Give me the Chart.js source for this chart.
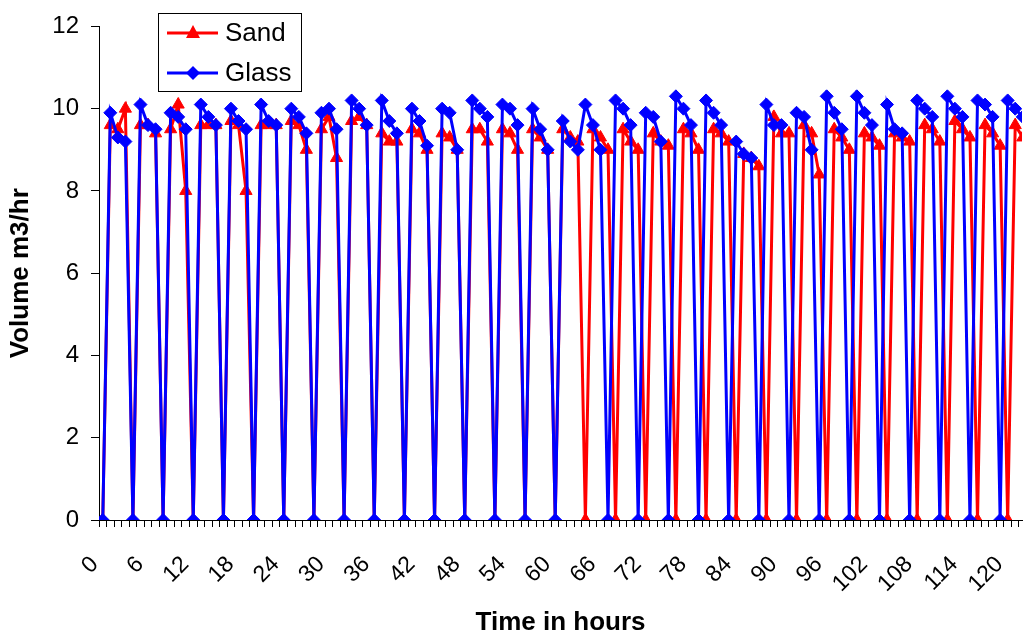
<!DOCTYPE html>
<html>
<head>
<meta charset="utf-8">
<title>Volume m3/hr</title>
<script src="https://cdn.jsdelivr.net/npm/chart.js@4.4.0/dist/chart.umd.min.js"></script>
<style>
  html, body { margin: 0; padding: 0; background: #fff; overflow: hidden; }
  #wrap { width: 1030px; height: 639px; position: relative; }
</style>
</head>
<body>
<div id="wrap"><canvas id="volumeChart" width="1030" height="639"></canvas></div>
<script>
// hourly readings, hour 0 .. 122 (the last one sits on the cut edge of the plot)
const sand = [
  0, 9.6, 9.5, 10.0, 0, 9.6, 9.6, 9.4, 0, 9.5, 10.1, 8.0,
  0, 9.6, 9.6, 9.6, 0, 9.7, 9.6, 8.0, 0, 9.6, 9.6, 9.6,
  0, 9.7, 9.6, 9.0, 0, 9.5, 9.8, 8.8, 0, 9.7, 9.8, 9.6,
  0, 9.4, 9.2, 9.2, 0, 9.5, 9.4, 9.0, 0, 9.4, 9.3, 9.0,
  0, 9.5, 9.5, 9.2, 0, 9.5, 9.4, 9.0, 0, 9.5, 9.3, 9.0,
  0, 9.5, 9.3, 9.2, 0, 9.5, 9.3, 9.0, 0, 9.5, 9.2, 9.0,
  0, 9.4, 9.2, 9.1, 0, 9.5, 9.4, 9.0, 0, 9.5, 9.4, 9.2,
  0, 8.9, 8.8, 8.6, 0, 9.8, 9.4, 9.4, 0, 9.6, 9.4, 8.4,
  0, 9.5, 9.3, 9.0, 0, 9.4, 9.3, 9.1, 0, 9.4, 9.3, 9.2,
  0, 9.6, 9.5, 9.2, 0, 9.7, 9.5, 9.3, 0, 9.6, 9.4, 9.1,
  0, 9.6, 9.3
];
const glass = [
  0, 9.9, 9.3, 9.2, 0, 10.1, 9.6, 9.5, 0, 9.9, 9.8, 9.5,
  0, 10.1, 9.8, 9.6, 0, 10.0, 9.7, 9.5, 0, 10.1, 9.7, 9.6,
  0, 10.0, 9.8, 9.4, 0, 9.9, 10.0, 9.5, 0, 10.2, 10.0, 9.6,
  0, 10.2, 9.7, 9.4, 0, 10.0, 9.7, 9.1, 0, 10.0, 9.9, 9.0,
  0, 10.2, 10.0, 9.8, 0, 10.1, 10.0, 9.6, 0, 10.0, 9.5, 9.0,
  0, 9.7, 9.2, 9.0, 10.1, 9.6, 9.0, 0, 10.2, 10.0, 9.6, 0,
  9.9, 9.8, 9.2, 0, 10.3, 10.0, 9.6, 0, 10.2, 9.9, 9.6, 0,
  9.2, 8.9, 8.8, 0, 10.1, 9.6, 9.6, 0, 9.9, 9.8, 9.0, 0,
  10.3, 9.9, 9.5, 0, 10.3, 9.9, 9.6, 0, 10.1, 9.5, 9.4, 0,
  10.2, 10.0, 9.8, 0, 10.3, 10.0, 9.8, 0, 10.2, 10.1, 9.8, 0,
  10.2, 10.0, 9.8
];
const hours = sand.map((v, h) => h);
const tickHours = [0, 6, 12, 18, 24, 30, 36, 42, 48, 54, 60, 66, 72, 78, 84, 90, 96, 102, 108, 114, 120];

Chart.defaults.font.family = '"Liberation Sans", Arial, sans-serif';
Chart.defaults.color = "#000";

// legend box sitting inside the plot, top left
const floatingLegend = {
  id: "floatingLegend",
  afterDraw(chart) {
    const ctx = chart.ctx;
    ctx.save();
    ctx.fillStyle = "#fff";
    ctx.fillRect(158.5, 13.5, 143, 78);
    ctx.strokeStyle = "#000";
    ctx.lineWidth = 1;
    ctx.strokeRect(158.5, 13.5, 143, 78);
    chart.data.datasets.forEach((ds, i) => {
      const y = 33 + i * 40;
      ctx.strokeStyle = ds.borderColor;
      ctx.lineWidth = 3;
      ctx.beginPath();
      ctx.moveTo(167, y);
      ctx.lineTo(218, y);
      ctx.stroke();
      ctx.fillStyle = ds.borderColor;
      ctx.beginPath();
      if (ds.pointStyle === "triangle") {
        ctx.moveTo(193, y - 8);
        ctx.lineTo(200, y + 5);
        ctx.lineTo(186, y + 5);
      } else {
        ctx.moveTo(193, y - 7);
        ctx.lineTo(200, y);
        ctx.lineTo(193, y + 7);
        ctx.lineTo(186, y);
      }
      ctx.closePath();
      ctx.fill();
      ctx.fillStyle = "#000";
      ctx.font = '26px "Liberation Sans", Arial, sans-serif';
      ctx.textBaseline = "middle";
      ctx.fillText(ds.label, 225, y + 1);
    });
    ctx.restore();
  }
};

function createVolumeChart() {
  const ctx = document.getElementById("volumeChart").getContext("2d");
  new Chart(ctx, {
    type: "line",
    data: {
      datasets: [
        {
          label: "Sand",
          data: hours.map((h) => ({ x: h, y: sand[h] })),
          borderColor: "#ff0000",
          backgroundColor: "#ff0000",
          borderWidth: 3,
          pointStyle: "triangle",
          pointRadius: 7,
          pointBorderWidth: 1,
          tension: 0,
          order: 1
        },
        {
          label: "Glass",
          data: hours.map((h) => ({ x: h, y: glass[h] })),
          borderColor: "#0000ff",
          backgroundColor: "#0000ff",
          borderWidth: 3,
          pointStyle: "rectRot",
          pointRadius: 6.5,
          pointBorderWidth: 1,
          tension: 0,
          order: 0
        }
      ]
    },
    options: {
      responsive: false,
      animation: false,
      layout: { padding: { top: 22, left: 0, right: 0, bottom: 0 } },
      plugins: {
        legend: { display: false },
        tooltip: { enabled: false }
      },
      scales: {
        x: {
          type: "linear",
          min: -0.5,
          max: 121.9,
          afterBuildTicks: (scale) => {
            const t = [];
            for (let h = 0; h <= 122; h++) {
              t.push({ value: h - 0.5 });
              if (tickHours.includes(h)) t.push({ value: h });
            }
            scale.ticks = t.filter((k) => k.value >= scale.min && k.value <= scale.max);
          },
          afterFit: (scale) => {
            scale.height = 119;
            scale.paddingLeft = 0;
            scale.paddingRight = 0;
          },
          ticks: {
            autoSkip: false,
            minRotation: 45,
            maxRotation: 45,
            padding: 24,
            labelOffset: -8,
            font: { size: 23 },
            callback: (value) => (tickHours.includes(value) ? String(value) : "")
          },
          grid: {
            drawOnChartArea: false,
            drawTicks: true,
            tickLength: 7,
            tickWidth: 1,
            tickColor: (c) => (c.tick && Number.isInteger(c.tick.value) ? "rgba(0,0,0,0)" : "#000")
          },
          border: { color: "#000", width: 1 },
          title: {
            display: true,
            text: "Time in hours",
            font: { size: 26, weight: "bold" },
            padding: { top: 0, bottom: 1 }
          }
        },
        y: {
          min: 0,
          max: 12,
          afterFit: (scale) => {
            scale.width = 99;
          },
          ticks: {
            stepSize: 2,
            padding: 12,
            font: { size: 24 }
          },
          grid: {
            drawOnChartArea: false,
            drawTicks: true,
            tickLength: 8,
            tickColor: "#000"
          },
          border: { color: "#000", width: 1 },
          title: {
            display: true,
            text: "Volume m3/hr",
            font: { size: 26, weight: "bold" },
            padding: { top: 5, bottom: 0 }
          }
        }
      }
    },
    plugins: [floatingLegend]
  });
}

createVolumeChart();
</script>
</body>
</html>
